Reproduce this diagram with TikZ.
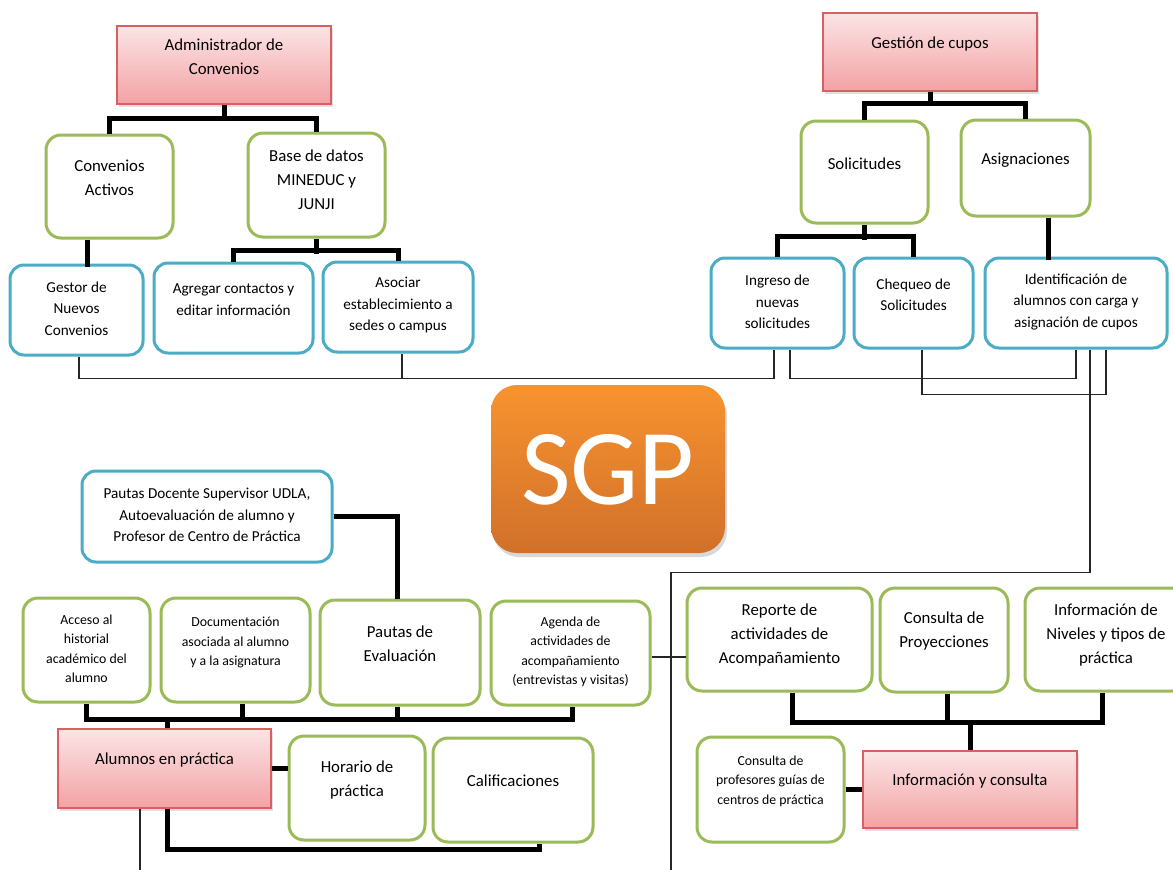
\documentclass[tikz,border=0pt]{standalone}
\usepackage{fontspec}
\setmainfont{Carlito}
\usetikzlibrary{shadows}

\definecolor{leafgreen}{HTML}{9BBB59}
\definecolor{aqua}{HTML}{4BACC6}
\definecolor{rosetop}{HTML}{FCE4E6}
\definecolor{rosebot}{HTML}{F3A2A4}
\definecolor{roseline}{HTML}{DA5F63}
\definecolor{orangetop}{HTML}{F7932F}
\definecolor{orangebot}{HTML}{D1702A}

% box from its outer corners: style, name, x1, y1, x2, y2
\newcommand\mkbox[6]{%
  \node[#1, minimum width={(#5)-(#3)}, minimum height={(#6)-(#4)}]
    (#2) at ({((#3)+(#5))/2},{((#4)+(#6))/2}) {};}

\tikzset{
  gbox/.style={draw=leafgreen, line width=3pt, rounded corners=15pt, fill=white, inner sep=0pt},
  bbox/.style={draw=aqua, line width=3pt, rounded corners=14pt, fill=white, inner sep=0pt},
  pbox/.style={draw=roseline, line width=1.2pt, top color=rosetop, bottom color=rosebot,
    inner sep=0pt, drop shadow={shadow xshift=2pt, shadow yshift=-3pt, opacity=0.25}},
  link/.style={line width=5pt, draw=black},
  wire/.style={line width=1.1pt, draw=black!85},
  txt/.style={align=center, inner sep=0pt, text=black},
  tA/.style={txt, font=\fontsize{16.8}{24}\selectfont},
  tB/.style={txt, font=\fontsize{15.2}{21.5}\selectfont},
  tC/.style={txt, font=\fontsize{13.8}{19.5}\selectfont},
}

\begin{document}
\begin{tikzpicture}[x=1pt, y=-1pt]
\useasboundingbox[fill=white] (0,0) rectangle (1173,870);

% ---- Administrador de Convenios branch
\mkbox{pbox}{admin}{117}{26}{331}{104}
\mkbox{gbox}{convact}{46}{135}{173}{238}
\mkbox{gbox}{base}{248}{133}{385}{237}
\mkbox{bbox}{gestor}{10}{265}{143}{355}
\mkbox{bbox}{agregar}{154}{263}{313}{353}
\mkbox{bbox}{asociar}{323}{262}{473}{352}

\node[tA] (admin-t) at (224,56.5) {Administrador de\\Convenios};
\node[tA] (convact-t) at (109.5,178) {Convenios\\Activos};
\node[tA] (base-t) at (316.5,180) {Base de datos\\MINEDUC y\\JUNJI};
\node[tB] (gestor-t) at (76.5,308.5) {Gestor de\\Nuevos\\Convenios};
\node[tB] (agregar-t) at (233.5,299.5) {Agregar contactos y\\editar información};
\node[tB] (asociar-t) at (398,305) {Asociar\\establecimiento a\\sedes o campus};

\draw[link] (admin.south) -- ++(0,15);
\draw[link] (convact.north) -- ++(0,-15) -| (base.north);
\draw[link] ([xshift=-22.5pt]convact.south) -- ++(0,27);
\draw[link] (base.south) -- ++(0,15);
\draw[link] (agregar.north) -- ++(0,-11) -| (asociar.north);

% ---- Gestión de cupos branch
\mkbox{pbox}{gestion}{823}{13}{1037}{91}
\mkbox{gbox}{solic}{801}{121}{928}{223}
\mkbox{gbox}{asign}{961}{120}{1090}{216}
\mkbox{bbox}{ingreso}{711}{258}{844}{348}
\mkbox{bbox}{chequeo}{854}{258}{973}{348}
\mkbox{bbox}{ident}{985}{258}{1167}{348}

\node[tA] (gestion-t) at (930,44) {Gestión de cupos};
\node[tA] (solic-t) at (864.5,164) {Solicitudes};
\node[tA] (asign-t) at (1025.5,160) {Asignaciones};
\node[tB] (ingreso-t) at (777.5,302) {Ingreso de\\nuevas\\solicitudes};
\node[tB] (chequeo-t) at (913.5,295) {Chequeo de\\Solicitudes};
\node[tB] (ident-t) at (1076,302) {Identificación de\\alumnos con carga y\\asignación de cupos};

\draw[link] (gestion.south) -- ++(0,14);
\draw[link] (solic.north) -- ++(0,-16) -| (asign.north);
\draw[link] (solic.south) -- ++(0,15);
\draw[link] (ingreso.north) -- ++(0,-20) -| (chequeo.north);
\draw[link] ([xshift=22.5pt]asign.south) -- ++(0,42);

% ---- thin wiring between the upper groups
\draw[wire] ([xshift=2.5pt]gestor.south) -- ++(0,22) -| ([xshift=-3.5pt]ingreso.south);
\draw[wire] ([xshift=4pt]asociar.south) -- ++(0,25);
\draw[wire] ([xshift=12.5pt]ingreso.south) -- ++(0,29) -| (ident.south);
\draw[wire] ([xshift=8.5pt]chequeo.south) -- ++(0,45) -| ([xshift=30pt]ident.south);
\coordinate (rightfoot) at (671,870);
\draw[wire] ([xshift=14pt]ident.south) -- ++(0,223) -| (rightfoot);

% ---- central badge
\node[top color=orangetop, bottom color=orangebot, rounded corners=26pt,
  minimum width=234pt, minimum height=168pt, inner sep=0pt,
  drop shadow={shadow xshift=2pt, shadow yshift=-4pt, opacity=0.3}]
  (sgp) at (608,469) {};
\node[inner sep=0pt, text=white, font=\fontsize{108}{108}\selectfont] (sgp-t) at (608,470) {SGP};

% ---- Alumnos en práctica branch
\mkbox{bbox}{pdocente}{82}{471}{332}{562}
\mkbox{gbox}{acceso}{23}{598}{150}{702}
\mkbox{gbox}{doc}{161}{598}{310}{702}
\mkbox{gbox}{peval}{320}{600}{480}{705}
\mkbox{gbox}{agenda}{491}{601}{650}{705}
\mkbox{pbox}{alumnos}{58}{729}{271}{808}
\mkbox{gbox}{horario}{289}{736}{425}{840}
\mkbox{gbox}{calif}{433}{738}{593}{842}

\node[tB] (pdocente-t) at (207,515) {Pautas Docente Supervisor UDLA,\\Autoevaluación de alumno y\\Profesor de Centro de Práctica};
\node[tC] (acceso-t) at (86.5,649) {Acceso al\\historial\\académico del\\alumno};
\node[tC] (doc-t) at (235.5,642.5) {Documentación\\asociada al alumno\\y a la asignatura};
\node[tA] (peval-t) at (400,644) {Pautas de\\Evaluación};
\node[tC] (agenda-t) at (570.5,652) {Agenda de\\actividades de\\acompañamiento\\(entrevistas y visitas)};
\node[tA] (alumnos-t) at (164.5,760) {Alumnos en práctica};
\node[tA] (horario-t) at (357,780) {Horario de\\práctica};
\node[tA] (calif-t) at (513,781) {Calificaciones};

\draw[link] (pdocente.east) -| ([xshift=-3pt]peval.north);
\draw[link] (acceso.south) -- ++(0,16) -| ([xshift=1.5pt]agenda.south);
\draw[link] ([xshift=6.5pt]doc.south) -- ++(0,16);
\draw[link] ([xshift=-3pt]peval.south) -- ++(0,13);
\draw[link] ([xshift=2.5pt]alumnos.north) -- ++(0,-11);
\draw[link] (alumnos.east) -- (alumnos.east -| horario.west);
\draw[link] ([xshift=2.5pt]alumnos.south) -- ++(0,41) -| ([xshift=26pt]calif.south);

\coordinate (leftfoot) at (140,870);
\draw[wire] ([xshift=-24.5pt]alumnos.south) -- (leftfoot);

% ---- Información y consulta branch
\mkbox{gbox}{reporte}{687}{588}{872}{691}
\mkbox{gbox}{consulta}{880}{588}{1008}{692}
\mkbox{gbox}{infoniv}{1025}{588}{1187}{691}
\mkbox{gbox}{cprof}{697}{737}{844}{842}
\mkbox{pbox}{infoc}{863}{751}{1077}{828}

\node[tA] (reporte-t) at (779.5,635) {Reporte de\\actividades de\\Acompañamiento};
\node[tA] (consulta-t) at (944,631.5) {Consulta de\\Proyecciones};
\node[tA] (infoniv-t) at (1106,635) {Información de\\Niveles y tipos de\\práctica};
\node[tC] (cprof-t) at (770.5,781) {Consulta de\\profesores guías de\\centros de práctica};
\node[tA] (infoc-t) at (970,781) {Información y consulta};

\draw[link] ([xshift=12.5pt]reporte.south) -- ++(0,30) -| ([xshift=-4pt]infoniv.south);
\draw[link] ([xshift=3pt]consulta.south) -- ++(0,29);
\draw[link] (infoc.north) -- ++(0,-30);
\draw[link] (cprof.east) -- (cprof.east -| infoc.west);

\draw[wire] ([yshift=-4pt]agenda.east) -- ([yshift=-4pt]agenda.east -| reporte.west);
\end{tikzpicture}
\end{document}
